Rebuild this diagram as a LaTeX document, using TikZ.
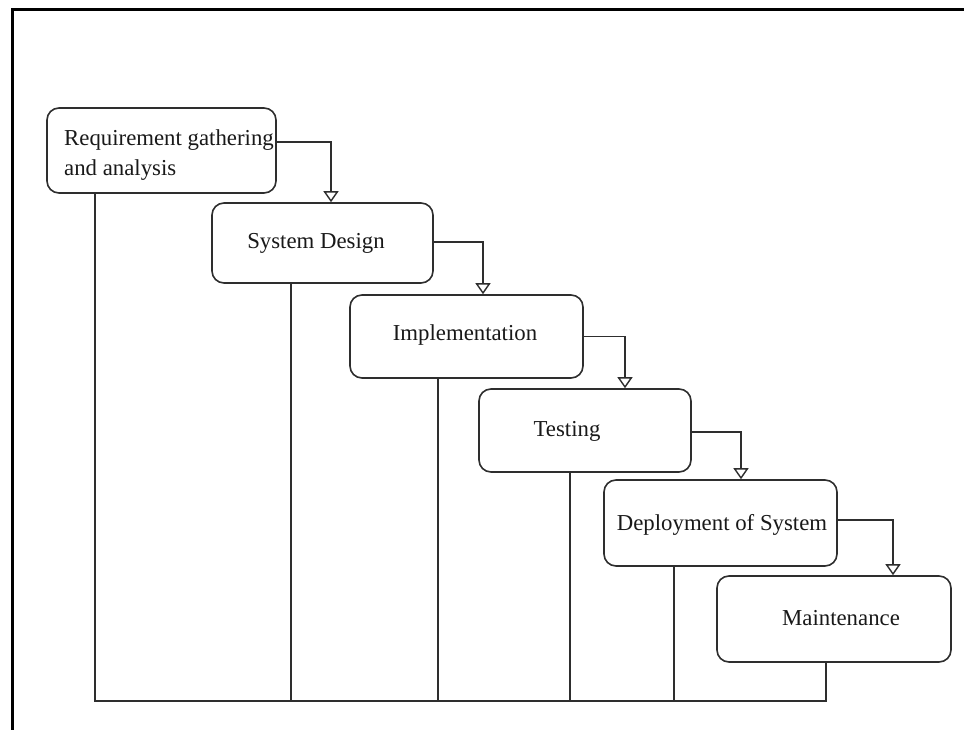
\documentclass[tikz,border=0pt]{standalone}
\usepackage{fontspec}
\setmainfont{Liberation Serif}
\usetikzlibrary{arrows.meta}
\begin{document}
\begin{tikzpicture}[x=1pt,y=-1pt,
  ln/.style={draw=black!82,line width=1.6pt},
  stage/.style={ln,rounded corners=12pt,inner sep=0pt},
  lbl/.style={font=\fontsize{22.8}{30}\selectfont,inner sep=0pt,text=black!90},
  flow/.style={ln,-{Triangle[open,width=15pt,length=11pt,line width=1.4pt]}}]
\useasboundingbox (0,0) rectangle (964,730);
\fill[white] (0,0) rectangle (964,730);
\draw[line width=3pt] (12,730) -- (12,10) -- (964,10);
% stages
\node[stage,minimum width=229pt,minimum height=85pt] (req) at (161.5,150.5) {};
\node[stage,minimum width=221pt,minimum height=80pt] (sd) at (322.5,243) {};
\node[stage,minimum width=233pt,minimum height=83pt] (impl) at (466.5,336.5) {};
\node[stage,minimum width=212pt,minimum height=83pt] (test) at (585,430.5) {};
\node[stage,minimum width=233pt,minimum height=86pt] (dep) at (720.5,523) {};
\node[stage,minimum width=234pt,minimum height=86pt] (maint) at (834,619) {};
% labels
\node[lbl,align=left,anchor=west] (reqt) at (64,155) {Requirement gathering\\and analysis};
\node[lbl] (sdt) at (316,243) {System Design};
\node[lbl] (implt) at (465,335) {Implementation};
\node[lbl] (testt) at (567,431) {Testing};
\node[lbl] (dept) at (722,525) {Deployment of System};
\node[lbl] (maintt) at (841,618) {Maintenance};
% flow arrows
\draw[flow] ([yshift=8.5pt]req.east) -| ([xshift=8.5pt]sd.north);
\draw[flow] ([yshift=1pt]sd.east) -| ([xshift=16.5pt]impl.north);
\draw[flow] (impl.east) -| ([xshift=40pt]test.north);
\draw[flow] ([yshift=-1.5pt]test.east) -| ([xshift=20.5pt]dep.north);
\draw[flow] ([yshift=3pt]dep.east) -| ([xshift=59pt]maint.north);
% feedback base
\coordinate (bl) at (95,701);
\coordinate (br) at (826,701);
\draw[ln] ([xshift=-66.5pt]req.south) -- (bl) -- (br) -- ([xshift=-8pt]maint.south);
\draw[ln] ([xshift=-31.5pt]sd.south) -- ([xshift=-31.5pt]sd.south |- bl);
\draw[ln] ([xshift=-28.5pt]impl.south) -- ([xshift=-28.5pt]impl.south |- bl);
\draw[ln] ([xshift=-15pt]test.south) -- ([xshift=-15pt]test.south |- bl);
\draw[ln] ([xshift=-46.5pt]dep.south) -- ([xshift=-46.5pt]dep.south |- bl);
\end{tikzpicture}
\end{document}
